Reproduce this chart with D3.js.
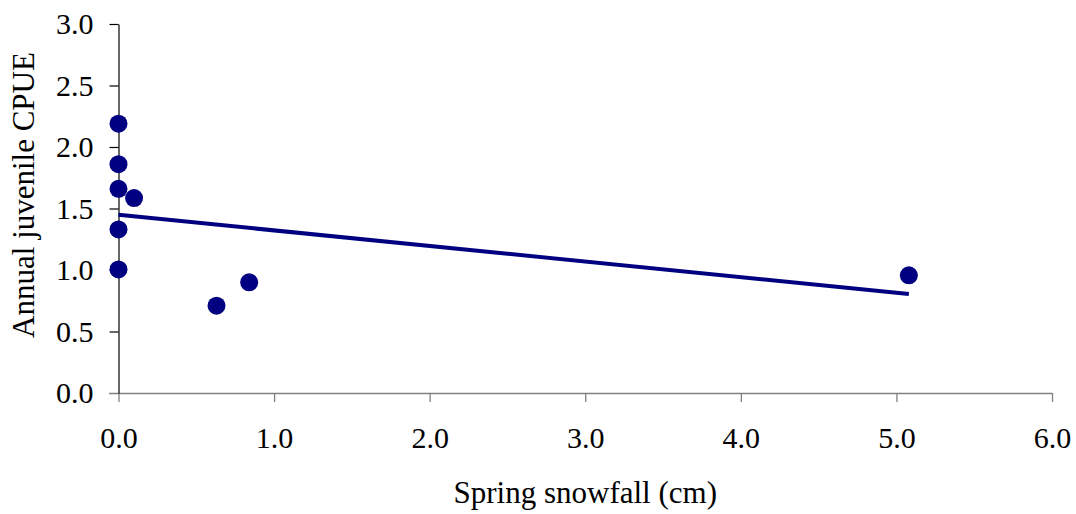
<!DOCTYPE html>
<html>
<head>
<meta charset="utf-8">
<script src="https://cdn.jsdelivr.net/npm/d3@7"></script>
<style>
  html, body { margin: 0; padding: 0; background: #fff; }
  svg { display: block; }
  text { font-family: "Liberation Serif", "Times New Roman", serif; fill: #000; }
</style>
</head>
<body>
<svg id="chart" width="1076" height="514"></svg>
<script>
// Spring snowfall (cm) against annual juvenile CPUE, one point per year
const snowfall = [0.00, 0.00, 0.00, 0.10, 0.00, 0.00, 0.63, 0.84, 5.08];
const cpue     = [2.19, 1.86, 1.66, 1.585, 1.33, 1.005, 0.71, 0.90, 0.957];
const xTicks = [0, 1, 2, 3, 4, 5, 6];
const yTicks = [0, 0.5, 1.0, 1.5, 2.0, 2.5, 3.0];

const navy = "#000080";
const svg = d3.select("#chart");

const x = d3.scaleLinear().domain([0, 6]).range([118.5, 1052]);
const y = d3.scaleLinear().domain([0, 3]).range([393, 24]);

// Least-squares trend line over the observed snowfall range
const n = snowfall.length;
const mx = d3.mean(snowfall), my = d3.mean(cpue);
let sxy = 0, sxx = 0;
for (let i = 0; i < n; i++) {
  sxy += (snowfall[i] - mx) * (cpue[i] - my);
  sxx += (snowfall[i] - mx) ** 2;
}
const slope = sxy / sxx;
const intercept = my - slope * mx;
const xMin = d3.min(snowfall), xMax = d3.max(snowfall);
const trend = [[xMin, intercept + slope * xMin], [xMax, intercept + slope * xMax]];

// X axis (grey, ticks pointing down)
const xAxis = svg.append("g")
  .attr("transform", `translate(0,${y(0)})`)
  .call(d3.axisBottom(x).tickValues(xTicks).tickFormat(d3.format(".1f"))
    .tickSizeInner(9).tickSizeOuter(0).tickPadding(25));
xAxis.select(".domain").remove();
xAxis.append("line")
  .attr("x1", x(0) - 9.5).attr("x2", x(6)).attr("y1", 0.5).attr("y2", 0.5)
  .attr("stroke", "#808080").attr("stroke-width", 1.3);
xAxis.selectAll(".tick line").attr("stroke", "#808080").attr("stroke-width", 1.3);
xAxis.selectAll(".tick text")
  .attr("font-size", 30).attr("font-family", "Liberation Serif").attr("fill", "#000");

// Y axis (black, ticks pointing left)
const yAxis = svg.append("g")
  .attr("transform", `translate(${x(0)},0)`)
  .call(d3.axisLeft(y).tickValues(yTicks).tickFormat(d3.format(".1f"))
    .tickSizeInner(9).tickSizeOuter(0).tickPadding(16));
yAxis.select(".domain").attr("stroke", "#000").attr("stroke-width", 1.2);
yAxis.selectAll(".tick line").attr("stroke", "#000").attr("stroke-width", 1.2);
yAxis.selectAll(".tick").filter(d => d === 0).select("line").remove();
yAxis.selectAll(".tick text")
  .attr("font-size", 30).attr("font-family", "Liberation Serif").attr("fill", "#000");

// Trend line
svg.append("path")
  .datum(trend)
  .attr("d", d3.line().x(d => x(d[0])).y(d => y(d[1])))
  .attr("fill", "none").attr("stroke", navy).attr("stroke-width", 4);

// Observations
svg.append("g").selectAll("circle")
  .data(snowfall.map((s, i) => [s, cpue[i]]))
  .join("circle")
  .attr("cx", d => x(d[0])).attr("cy", d => y(d[1]))
  .attr("r", 9).attr("fill", navy);

// Axis titles
svg.append("text")
  .attr("x", (x(0) + x(6)) / 2).attr("y", 503)
  .attr("text-anchor", "middle").attr("font-size", 31)
  .text("Spring snowfall (cm)");

svg.append("text")
  .attr("transform", "translate(34,195) rotate(-90)")
  .attr("text-anchor", "middle").attr("font-size", 31)
  .text("Annual juvenile CPUE");
</script>
</body>
</html>
